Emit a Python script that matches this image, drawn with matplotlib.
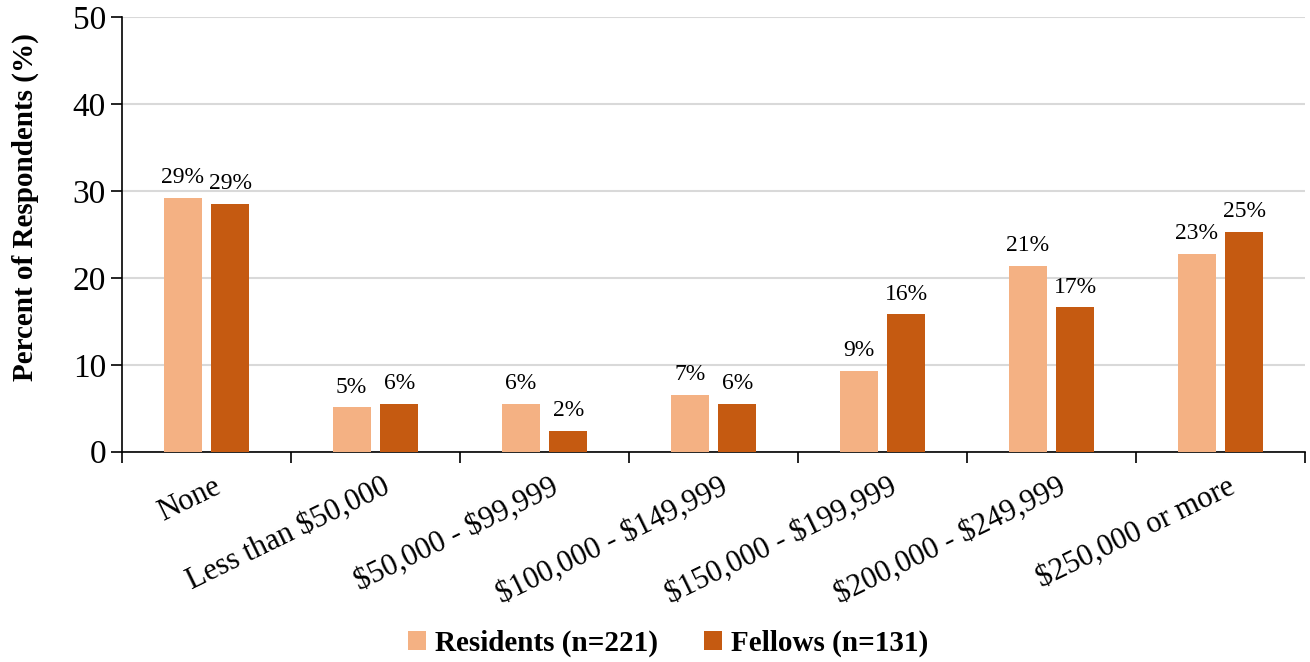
import numpy as np
import matplotlib.pyplot as plt
from matplotlib import rcParams
from matplotlib.transforms import ScaledTranslation

rcParams["font.family"] = ["Liberation Serif", "DejaVu Serif"]
rcParams["text.parse_math"] = False

categories = [
    "None",
    "Less than $50,000",
    "$50,000 - $99,999",
    "$100,000 - $149,999",
    "$150,000 - $199,999",
    "$200,000 - $249,999",
    "$250,000 or more",
]
residents = [29.2, 5.1, 5.5, 6.5, 9.3, 21.4, 22.8]
fellows = [28.5, 5.5, 2.4, 5.5, 15.8, 16.6, 25.3]
residents_labels = ["29%", "5%", "6%", "7%", "9%", "21%", "23%"]
fellows_labels = ["29%", "6%", "2%", "6%", "16%", "17%", "25%"]

c_res = "#F4B183"
c_fel = "#C55A11"

fig = plt.figure(figsize=(13.1, 6.62), dpi=100)
ax = fig.add_axes([0.0931, 0.3177, 0.9031, 0.6562])

x = np.arange(len(categories))
w = 0.225
off = 0.141
b1 = ax.bar(x - off, residents, w, color=c_res, label="Residents (n=221)", zorder=3)
b2 = ax.bar(x + off, fellows, w, color=c_fel, label="Fellows (n=131)", zorder=3)
ax.bar_label(b1, labels=residents_labels, padding=7, fontsize=17)
ax.bar_label(b2, labels=fellows_labels, padding=7, fontsize=17)

ax.set_xlim(-0.5, len(categories) - 0.5)
ax.set_ylim(0, 50)
ax.set_yticks(range(0, 51, 10))
ax.tick_params(axis="y", labelsize=24, length=8, width=1.2, direction="out")
ax.yaxis.grid(True, color="#d9d9d9", lw=1.5, zorder=0)

# category ticks at boundaries, labels centred
ax.set_xticks(np.arange(-0.5, len(categories), 1.0))
ax.set_xticklabels([])
ax.tick_params(axis="x", length=8, width=1.2, direction="out")
ax.set_xticks(x, minor=True)
ax.set_xticklabels(categories, minor=True, rotation=26, ha="right",
                   rotation_mode="anchor", fontsize=22)
ax.tick_params(axis="x", which="minor", length=0, pad=15)
shift = ScaledTranslation(6 / 100, 0, fig.dpi_scale_trans)
for lab in ax.get_xticklabels(minor=True):
    lab.set_transform(lab.get_transform() + shift)

for s in ["top", "right"]:
    ax.spines[s].set_visible(False)
for s in ["left", "bottom"]:
    ax.spines[s].set_linewidth(1.2)

ax.set_ylabel("Percent of Respondents (%)", fontsize=21, fontweight="bold")
ax.yaxis.set_label_coords(-0.07, 0.562)

fig.legend(loc="lower center", bbox_to_anchor=(0.51, -0.032), ncol=2,
           frameon=False, prop={"size": 21, "weight": "bold"},
           handlelength=0.6, handleheight=0.6, handletextpad=0.3,
           columnspacing=1.6)

fig.savefig("out.png", dpi=100)
